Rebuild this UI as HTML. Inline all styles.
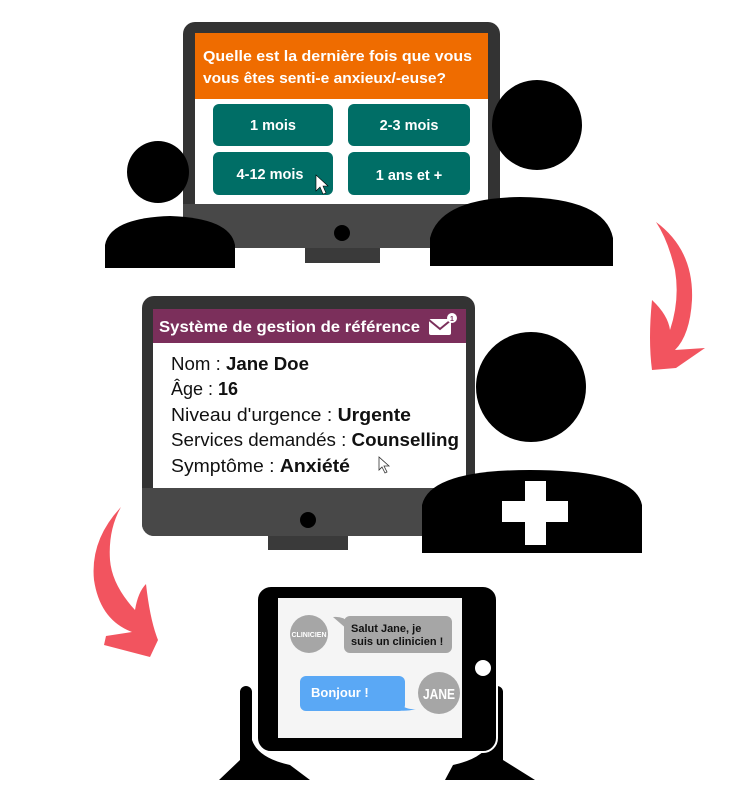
<!DOCTYPE html>
<html><head><meta charset="utf-8"><style>
html,body{margin:0;padding:0;background:#fff;}
svg{display:block;}
text{font-family:"Liberation Sans","DejaVu Sans",sans-serif;}
</style></head><body>
<svg width="748" height="798" viewBox="0 0 748 798" xmlns="http://www.w3.org/2000/svg">
<!-- Monitor 1 -->
<rect x="183" y="22" width="317" height="226" rx="12" fill="#333"/>
<path d="M183 204 H500 V236 a12 12 0 0 1 -12 12 H195 a12 12 0 0 1 -12 -12 Z" fill="#484848"/>
<rect x="305" y="248" width="75" height="15" fill="#3a3a3a"/>
<circle cx="342" cy="233" r="8" fill="#000"/>
<rect x="195" y="33" width="293" height="171" fill="#fff"/>
<rect x="195" y="33" width="293" height="66" fill="#ef6c00"/>
<text x="203" y="61" font-size="15" font-weight="bold" fill="#fff" textLength="269" lengthAdjust="spacingAndGlyphs">Quelle est la dernière fois que vous</text>
<text x="203" y="83" font-size="15" font-weight="bold" fill="#fff" textLength="243" lengthAdjust="spacingAndGlyphs">vous êtes senti-e anxieux/-euse?</text>
<g fill="#006e66">
<rect x="213" y="104" width="120" height="42" rx="6"/>
<rect x="348" y="104" width="122" height="42" rx="6"/>
<rect x="213" y="152" width="120" height="43" rx="6"/>
<rect x="348" y="152" width="122" height="43" rx="6"/>
</g>
<g fill="#fff" font-size="14.5" font-weight="bold" text-anchor="middle">
<text x="273" y="130">1 mois</text>
<text x="409" y="130">2-3 mois</text>
<text x="270" y="179">4-12 mois</text>
<text x="409" y="180">1 ans et +</text>
</g>
<path d="M316 175 L316 191 L320 187 L323 194 L326 193 L323 186 L328 186 Z" fill="#fff" stroke="#000" stroke-width="0.6"/>
<!-- persons top -->
<circle cx="158" cy="172" r="31" fill="#000"/>
<path d="M105 268 V245 Q110 218 170 216 Q230 218 235 245 V268 Z" fill="#000"/>
<circle cx="537" cy="125" r="45" fill="#000"/>
<path d="M430 266 V238 Q440 198 520 197 Q605 198 613 238 V266 Z" fill="#000"/>
<!-- arrow right -->
<path d="M656 222 Q694 250 692 300 Q690 335 675 350 L705 348 L676 368 L652 370 Q648 340 652 300 Q668 315 670 330 Q680 300 675 270 Q668 240 656 222 Z" fill="#f2545f"/>
<!-- Monitor 2 -->
<rect x="142" y="296" width="333" height="240" rx="12" fill="#333"/>
<path d="M142 488 H475 V524 a12 12 0 0 1 -12 12 H154 a12 12 0 0 1 -12 -12 Z" fill="#484848"/>
<rect x="268" y="536" width="80" height="14" fill="#3a3a3a"/>
<circle cx="308" cy="520" r="8" fill="#000"/>
<rect x="153" y="309" width="313" height="179" fill="#fff"/>
<rect x="153" y="309" width="313" height="34" fill="#7b2f5b"/>
<text x="159" y="332" font-size="15.5" font-weight="bold" fill="#fff" textLength="261" lengthAdjust="spacingAndGlyphs">Système de gestion de référence</text>
<rect x="429" y="319" width="22" height="16" rx="2" fill="#fff"/>
<path d="M429 320 L440 329 L451 320" fill="none" stroke="#7b2f5b" stroke-width="2"/>
<circle cx="452" cy="318" r="5" fill="#fff"/>
<text x="452" y="321" font-size="7" font-weight="bold" fill="#7b2f5b" text-anchor="middle">1</text>
<g font-size="18" fill="#111">
<text x="171" y="370" textLength="138" lengthAdjust="spacingAndGlyphs">Nom : <tspan font-weight="bold">Jane Doe</tspan></text>
<text x="171" y="395">Âge : <tspan font-weight="bold">16</tspan></text>
<text x="171" y="421" textLength="240" lengthAdjust="spacingAndGlyphs">Niveau d'urgence : <tspan font-weight="bold">Urgente</tspan></text>
<text x="171" y="446" textLength="288" lengthAdjust="spacingAndGlyphs">Services demandés : <tspan font-weight="bold">Counselling</tspan></text>
<text x="171" y="472" textLength="179" lengthAdjust="spacingAndGlyphs">Symptôme : <tspan font-weight="bold">Anxiété</tspan></text>
</g>
<path d="M379 457 L379 470 L382 467 L385 473 L387 472 L384 466 L389 466 Z" fill="#fff" stroke="#333" stroke-width="0.8"/>
<!-- nurse -->
<circle cx="531" cy="387" r="55" fill="#000"/>
<path d="M422 553 V505 Q430 470 530 470 Q635 470 642 505 V553 Z" fill="#000"/>
<rect x="525" y="481" width="21" height="64" fill="#fff"/>
<rect x="502" y="501" width="66" height="21" fill="#fff"/>
<!-- arrow left -->
<path d="M121 507 Q90 540 94 580 Q100 620 132 632 L106 636 L104 645 L150 657 L158 640 Q150 620 146 584 Q138 592 135 610 Q112 585 110 560 Q108 530 121 507 Z" fill="#f2545f"/>
<!-- hands -->
<path d="M240 692 a6 6 0 0 1 12 0 V740 Q258 758 290 765 L310 780 H219 L240 760 Z" fill="#000"/>
<path d="M503 692 a6 6 0 0 0 -12 0 V740 Q485 758 453 765 L445 780 H535 L503 760 Z" fill="#000"/>
<!-- tablet -->
<rect x="257" y="586" width="240" height="166" rx="14" fill="#000" stroke="#fff" stroke-width="2"/>
<rect x="278" y="598" width="184" height="140" fill="#f5f5f5"/>
<circle cx="483" cy="668" r="8" fill="#fff"/>
<circle cx="309" cy="634" r="19" fill="#a6a6a6"/>
<text x="309" y="637" font-size="7" font-weight="bold" fill="#fff" text-anchor="middle">CLINICIEN</text>
<path d="M333 617 Q343 616 348 622 L348 630 Z" fill="#a6a6a6"/>
<rect x="344" y="616" width="108" height="37" rx="6" fill="#a6a6a6"/>
<text x="351" y="632" font-size="11" font-weight="bold" fill="#111">Salut Jane, je</text>
<text x="351" y="645" font-size="11" font-weight="bold" fill="#111">suis un clinicien !</text>
<rect x="300" y="676" width="105" height="35" rx="6" fill="#5aa8f5"/>
<path d="M398 700 Q402 710 416 709 Q405 712 395 710 Z" fill="#5aa8f5"/>
<text x="311" y="697" font-size="13" font-weight="bold" fill="#fff">Bonjour !</text>
<circle cx="439" cy="693" r="21" fill="#a6a6a6"/>
<text x="439" y="699" font-size="15" font-weight="bold" fill="#fff" text-anchor="middle" textLength="32" lengthAdjust="spacingAndGlyphs">JANE</text>
</svg>
</body></html>
